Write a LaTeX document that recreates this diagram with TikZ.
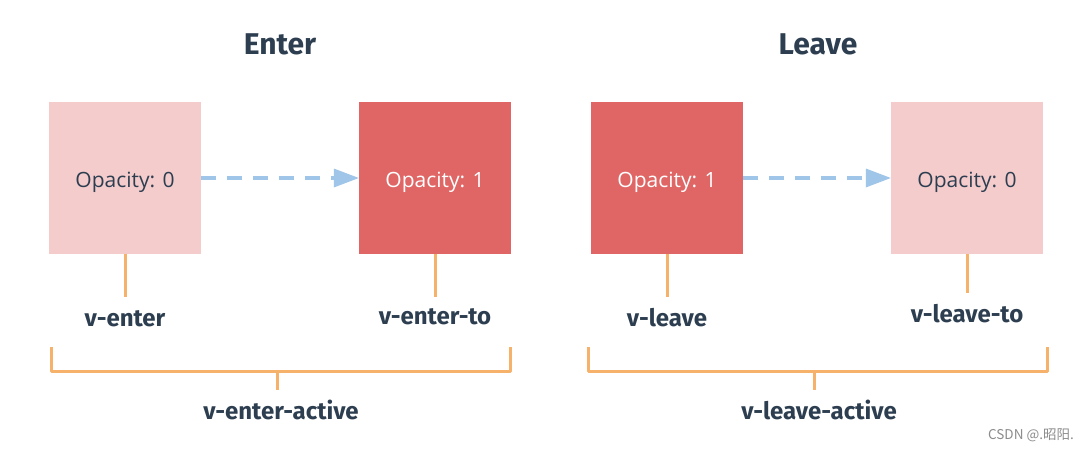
\documentclass[tikz,border=0pt]{standalone}
\usepackage{fontspec}
\setmainfont{Fira Sans}
\newfontfamily\boxfont{Open Sans}
\newfontfamily\cjkfont{Noto Sans CJK SC}
\usetikzlibrary{arrows.meta}
\definecolor{pinkbox}{HTML}{F4CCCC}
\definecolor{redbox}{HTML}{E06666}
\definecolor{arrowblue}{HTML}{9FC5E8}
\definecolor{lineorange}{HTML}{F6B26B}
\definecolor{darktext}{HTML}{2C3E50}
\begin{document}
\begin{tikzpicture}[x=1pt,y=-1pt,
  statebox/.style={draw=none,minimum width=152pt,minimum height=152pt,inner sep=0pt,text height=19pt,text depth=0pt,font=\boxfont\fontsize{21}{24}\selectfont},
  lightbox/.style={statebox,fill=pinkbox,text=darktext},
  darkbox/.style={statebox,fill=redbox,text=white},
  flow/.style={draw=arrowblue,line width=4pt,dash pattern=on 15pt off 11pt,-{Triangle[length=25pt,width=19pt,line width=0pt]}},
  tick/.style={draw=lineorange,line width=3pt},
  brace/.style={draw=lineorange,line width=3pt,line join=round},
  classlabel/.style={text=darktext,font=\fontsize{24}{28}\selectfont\bfseries,inner sep=0pt},
  title/.style={text=darktext,font=\fontsize{30}{34}\selectfont\bfseries,inner sep=0pt}]
\useasboundingbox (0,0) rectangle (1088,450);
\fill[white] (0,0) rectangle (1088,450);

\node[title] (tEnter) at (280,44) {Enter};
\node[title] (tLeave) at (818,44) {Leave};

\node[lightbox] (b1) at (125,178) {Opacity: 0};
\node[darkbox]  (b2) at (435,178) {Opacity: 1};
\node[darkbox]  (b3) at (667,178) {Opacity: 1};
\node[lightbox] (b4) at (967,178) {Opacity: 0};

\draw[flow] (b1.east) -- (b2.west);
\draw[flow] (b3.east) -- (b4.west);

\coordinate (e1) at (125,297);
\coordinate (e2) at (435,297);
\coordinate (e3) at (667,297);
\coordinate (e4) at (967,293);
\draw[tick] (b1.south) -- (e1);
\draw[tick] (b2.south) -- (e2);
\draw[tick] (b3.south) -- (e3);
\draw[tick] (b4.south) -- (e4);

\node[classlabel] (l1) at (125,319) {v-enter};
\node[classlabel] (l2) at (435,317) {v-enter-to};
\node[classlabel] (l3) at (667,318) {v-leave};
\node[classlabel] (l4) at (967,314) {v-leave-to};

\coordinate (bl1) at (51,347);
\coordinate (bl2) at (510,347);
\coordinate (bl3) at (277,390);
\draw[brace] (bl1) -- (51,371) -- (510,371) -- (bl2);
\draw[tick] (277,371) -- (bl3);
\node[classlabel] (a1) at (281,410) {v-enter-active};

\coordinate (br1) at (588,347);
\coordinate (br2) at (1047,347);
\coordinate (br3) at (814,390);
\draw[brace] (br1) -- (588,371) -- (1047,371) -- (br2);
\draw[tick] (814,371) -- (br3);
\node[classlabel] (a2) at (819,410) {v-leave-active};

\node[text=black!45,font=\cjkfont\fontsize{13.5}{15}\selectfont,inner sep=0pt,anchor=east] (wm) at (1074,435) {CSDN @.昭阳.};
\end{tikzpicture}
\end{document}
